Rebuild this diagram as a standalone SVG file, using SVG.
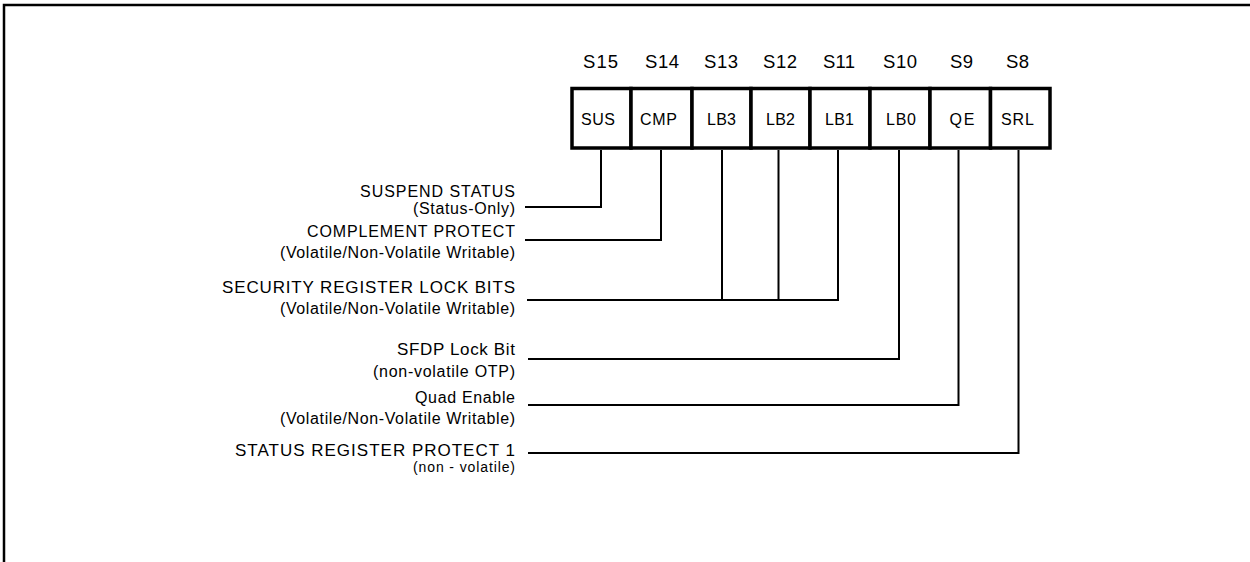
<svg xmlns="http://www.w3.org/2000/svg" width="1250" height="562" viewBox="0 0 1250 562">
  <style>
    text { font-family: "Liberation Sans", Arial, sans-serif; fill: #000; }
    .hdr { font-size: 18.5px; text-anchor: middle; }
    .cell { font-size: 16px; text-anchor: middle; }
    .lbl { font-size: 16px; }
    .lbl-big { font-size: 17px; }
    .lbl-sm { font-size: 14px; }
    .box { fill: #fff; stroke: #000; stroke-width: 3.5; }
    .lead { fill: none; stroke: #000; stroke-width: 2; }
    .frame { fill: none; stroke: #000; stroke-width: 2.5; }
  </style>

  <rect width="1250" height="562" fill="#fff"/>
  <path class="frame" d="M4,562 V5 H1250"/>

  <g id="register">
    <g id="bit-s15"><rect class="box" x="572" y="88.5" width="59" height="59.5"/><text class="hdr" x="600.5" y="68" textLength="35">S15</text><text class="cell" x="598" y="125" textLength="34">SUS</text></g>
    <g id="bit-s14"><rect class="box" x="631" y="88.5" width="61" height="59.5"/><text class="hdr" x="662" y="68" textLength="34">S14</text><text class="cell" x="658.5" y="125" textLength="37">CMP</text></g>
    <g id="bit-s13"><rect class="box" x="692" y="88.5" width="59" height="59.5"/><text class="hdr" x="721" y="68" textLength="34">S13</text><text class="cell" x="721.5" y="125" textLength="29">LB3</text></g>
    <g id="bit-s12"><rect class="box" x="751" y="88.5" width="59" height="59.5"/><text class="hdr" x="780" y="68" textLength="34">S12</text><text class="cell" x="780.5" y="125" textLength="29">LB2</text></g>
    <g id="bit-s11"><rect class="box" x="810" y="88.5" width="60" height="59.5"/><text class="hdr" x="839" y="68" textLength="32">S11</text><text class="cell" x="839.5" y="125" textLength="29">LB1</text></g>
    <g id="bit-s10"><rect class="box" x="870" y="88.5" width="60" height="59.5"/><text class="hdr" x="900" y="68" textLength="34">S10</text><text class="cell" x="901" y="125" textLength="30">LB0</text></g>
    <g id="bit-s9"><rect class="box" x="930" y="88.5" width="60.5" height="59.5"/><text class="hdr" x="961.5" y="68" textLength="23">S9</text><text class="cell" x="962" y="125" textLength="25">QE</text></g>
    <g id="bit-s8"><rect class="box" x="990.5" y="88.5" width="59.5" height="59.5"/><text class="hdr" x="1017.5" y="68" textLength="23">S8</text><text class="cell" x="1017.5" y="125" textLength="33">SRL</text></g>
  </g>

  <g id="connectors">
    <path class="lead" d="M525,207 H601 V150"/>
    <path class="lead" d="M525,240 H661 V150"/>
    <path class="lead" d="M527,300 H838 V150 M722,300 V150 M778.5,300 V150"/>
    <path class="lead" d="M528,359 H899 V150"/>
    <path class="lead" d="M528,405 H958.5 V150"/>
    <path class="lead" d="M528,453 H1018.5 V150"/>
  </g>

  <g id="label-suspend">
    <text class="lbl" x="360" y="197" textLength="155">SUSPEND STATUS</text>
    <text class="lbl" x="413" y="214" textLength="102">(Status-Only)</text>
  </g>
  <g id="label-complement">
    <text class="lbl" x="307" y="237" textLength="208">COMPLEMENT PROTECT</text>
    <text class="lbl" x="280" y="258" textLength="235">(Volatile/Non-Volatile Writable)</text>
  </g>
  <g id="label-security">
    <text class="lbl-big" x="222" y="293" textLength="293">SECURITY REGISTER LOCK BITS</text>
    <text class="lbl" x="280" y="314" textLength="235">(Volatile/Non-Volatile Writable)</text>
  </g>
  <g id="label-sfdp">
    <text class="lbl-big" x="397" y="355" textLength="118">SFDP Lock Bit</text>
    <text class="lbl" x="373" y="377" textLength="142">(non-volatile OTP)</text>
  </g>
  <g id="label-quad">
    <text class="lbl" x="415" y="403" textLength="100">Quad Enable</text>
    <text class="lbl" x="280" y="424" textLength="235">(Volatile/Non-Volatile Writable)</text>
  </g>
  <g id="label-srp1">
    <text class="lbl-big" x="235" y="456" textLength="280">STATUS REGISTER PROTECT 1</text>
    <text class="lbl-sm" x="413" y="472" textLength="102">(non - volatile)</text>
  </g>
</svg>
